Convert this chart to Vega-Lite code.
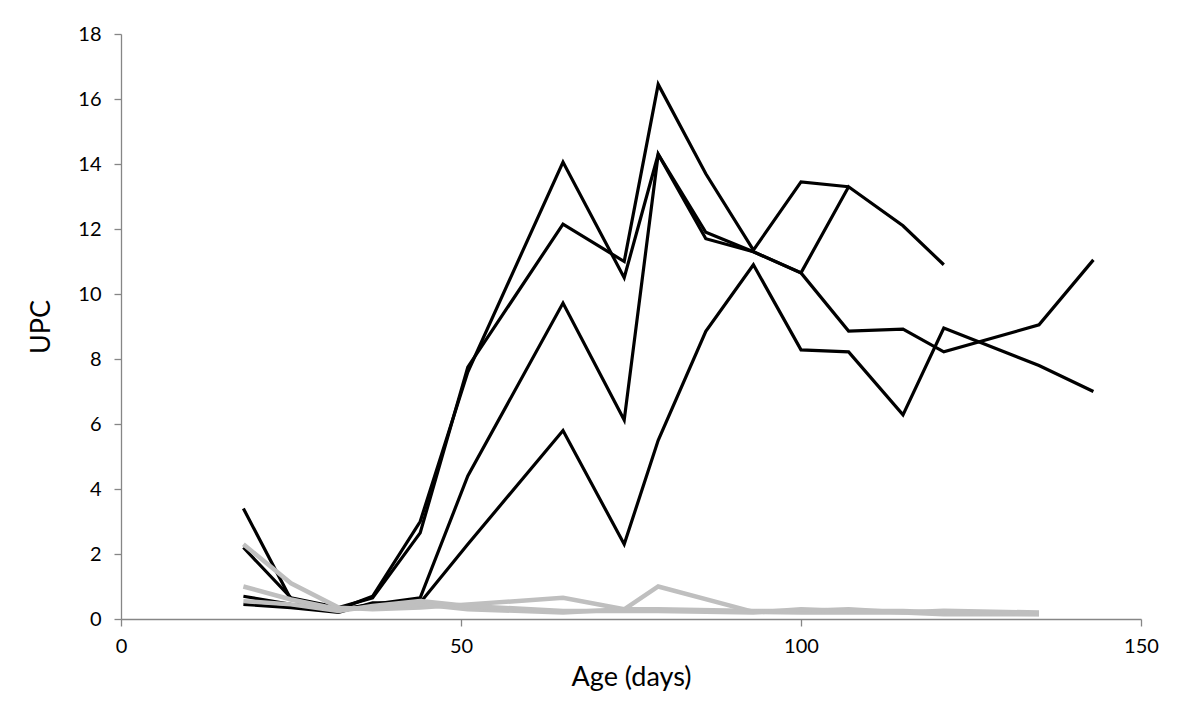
{
  "$schema": "https://vega.github.io/schema/vega-lite/v6.json",
  "width": 1020,
  "height": 585,
  "autosize": "none",
  "padding": {"left": 121, "top": 34, "right": 59, "bottom": 84},
  "background": "white",
  "config": {
    "view": {"stroke": null},
    "font": "Lato, sans-serif"
  },
  "datasets": {
    "upc": [
      {"s": "P", "g": "black", "age": 18, "upc": 3.4},
      {"s": "P", "g": "black", "age": 25, "upc": 0.6},
      {"s": "P", "g": "black", "age": 32, "upc": 0.3},
      {"s": "P", "g": "black", "age": 37, "upc": 0.7},
      {"s": "P", "g": "black", "age": 44, "upc": 3.0},
      {"s": "P", "g": "black", "age": 51, "upc": 7.6},
      {"s": "P", "g": "black", "age": 65, "upc": 14.06},
      {"s": "P", "g": "black", "age": 74, "upc": 10.5},
      {"s": "P", "g": "black", "age": 79, "upc": 14.3},
      {"s": "P", "g": "black", "age": 86, "upc": 11.9},
      {"s": "P", "g": "black", "age": 93, "upc": 11.3},
      {"s": "P", "g": "black", "age": 100, "upc": 10.65},
      {"s": "P", "g": "black", "age": 107, "upc": 13.3},
      {"s": "P", "g": "black", "age": 115, "upc": 12.1},
      {"s": "P", "g": "black", "age": 121, "upc": 10.9},

      {"s": "Q", "g": "black", "age": 18, "upc": 2.2},
      {"s": "Q", "g": "black", "age": 25, "upc": 0.65},
      {"s": "Q", "g": "black", "age": 32, "upc": 0.35},
      {"s": "Q", "g": "black", "age": 37, "upc": 0.65},
      {"s": "Q", "g": "black", "age": 44, "upc": 2.65},
      {"s": "Q", "g": "black", "age": 51, "upc": 7.75},
      {"s": "Q", "g": "black", "age": 65, "upc": 12.15},
      {"s": "Q", "g": "black", "age": 74, "upc": 11.0},
      {"s": "Q", "g": "black", "age": 79, "upc": 16.45},
      {"s": "Q", "g": "black", "age": 86, "upc": 13.7},
      {"s": "Q", "g": "black", "age": 93, "upc": 11.35},
      {"s": "Q", "g": "black", "age": 100, "upc": 13.45},
      {"s": "Q", "g": "black", "age": 107, "upc": 13.3},

      {"s": "R", "g": "black", "age": 18, "upc": 0.7},
      {"s": "R", "g": "black", "age": 25, "upc": 0.45},
      {"s": "R", "g": "black", "age": 32, "upc": 0.3},
      {"s": "R", "g": "black", "age": 37, "upc": 0.45},
      {"s": "R", "g": "black", "age": 44, "upc": 0.65},
      {"s": "R", "g": "black", "age": 51, "upc": 4.4},
      {"s": "R", "g": "black", "age": 65, "upc": 9.72},
      {"s": "R", "g": "black", "age": 74, "upc": 6.12},
      {"s": "R", "g": "black", "age": 79, "upc": 14.3},
      {"s": "R", "g": "black", "age": 86, "upc": 11.7},
      {"s": "R", "g": "black", "age": 93, "upc": 11.3},
      {"s": "R", "g": "black", "age": 100, "upc": 10.65},
      {"s": "R", "g": "black", "age": 107, "upc": 8.86},
      {"s": "R", "g": "black", "age": 115, "upc": 8.92},
      {"s": "R", "g": "black", "age": 121, "upc": 8.22},
      {"s": "R", "g": "black", "age": 135, "upc": 9.05},
      {"s": "R", "g": "black", "age": 143, "upc": 11.05},

      {"s": "S", "g": "black", "age": 18, "upc": 0.45},
      {"s": "S", "g": "black", "age": 25, "upc": 0.35},
      {"s": "S", "g": "black", "age": 32, "upc": 0.2},
      {"s": "S", "g": "black", "age": 37, "upc": 0.5},
      {"s": "S", "g": "black", "age": 44, "upc": 0.5},
      {"s": "S", "g": "black", "age": 51, "upc": 2.3},
      {"s": "S", "g": "black", "age": 65, "upc": 5.8},
      {"s": "S", "g": "black", "age": 74, "upc": 2.3},
      {"s": "S", "g": "black", "age": 79, "upc": 5.5},
      {"s": "S", "g": "black", "age": 86, "upc": 8.85},
      {"s": "S", "g": "black", "age": 93, "upc": 10.9},
      {"s": "S", "g": "black", "age": 100, "upc": 8.28},
      {"s": "S", "g": "black", "age": 107, "upc": 8.22},
      {"s": "S", "g": "black", "age": 115, "upc": 6.28},
      {"s": "S", "g": "black", "age": 121, "upc": 8.95},
      {"s": "S", "g": "black", "age": 135, "upc": 7.8},
      {"s": "S", "g": "black", "age": 143, "upc": 7.0},

      {"s": "G1", "g": "grey", "age": 18, "upc": 2.3},
      {"s": "G1", "g": "grey", "age": 25, "upc": 1.1},
      {"s": "G1", "g": "grey", "age": 32, "upc": 0.35},
      {"s": "G1", "g": "grey", "age": 37, "upc": 0.3},
      {"s": "G1", "g": "grey", "age": 44, "upc": 0.35},
      {"s": "G1", "g": "grey", "age": 51, "upc": 0.45},
      {"s": "G1", "g": "grey", "age": 65, "upc": 0.65},
      {"s": "G1", "g": "grey", "age": 74, "upc": 0.3},
      {"s": "G1", "g": "grey", "age": 79, "upc": 0.3},
      {"s": "G1", "g": "grey", "age": 93, "upc": 0.25},
      {"s": "G1", "g": "grey", "age": 100, "upc": 0.25},
      {"s": "G1", "g": "grey", "age": 107, "upc": 0.3},
      {"s": "G1", "g": "grey", "age": 115, "upc": 0.2},
      {"s": "G1", "g": "grey", "age": 121, "upc": 0.25},
      {"s": "G1", "g": "grey", "age": 135, "upc": 0.2},

      {"s": "G2", "g": "grey", "age": 18, "upc": 1.0},
      {"s": "G2", "g": "grey", "age": 25, "upc": 0.6},
      {"s": "G2", "g": "grey", "age": 32, "upc": 0.3},
      {"s": "G2", "g": "grey", "age": 37, "upc": 0.35},
      {"s": "G2", "g": "grey", "age": 44, "upc": 0.45},
      {"s": "G2", "g": "grey", "age": 51, "upc": 0.3},
      {"s": "G2", "g": "grey", "age": 65, "upc": 0.2},
      {"s": "G2", "g": "grey", "age": 74, "upc": 0.3},
      {"s": "G2", "g": "grey", "age": 79, "upc": 1.0},
      {"s": "G2", "g": "grey", "age": 93, "upc": 0.22},
      {"s": "G2", "g": "grey", "age": 100, "upc": 0.2},
      {"s": "G2", "g": "grey", "age": 107, "upc": 0.2},
      {"s": "G2", "g": "grey", "age": 115, "upc": 0.2},
      {"s": "G2", "g": "grey", "age": 121, "upc": 0.15},
      {"s": "G2", "g": "grey", "age": 135, "upc": 0.15},

      {"s": "G3", "g": "grey", "age": 18, "upc": 0.55},
      {"s": "G3", "g": "grey", "age": 25, "upc": 0.45},
      {"s": "G3", "g": "grey", "age": 32, "upc": 0.25},
      {"s": "G3", "g": "grey", "age": 37, "upc": 0.4},
      {"s": "G3", "g": "grey", "age": 44, "upc": 0.55},
      {"s": "G3", "g": "grey", "age": 51, "upc": 0.4},
      {"s": "G3", "g": "grey", "age": 65, "upc": 0.25},
      {"s": "G3", "g": "grey", "age": 74, "upc": 0.25},
      {"s": "G3", "g": "grey", "age": 79, "upc": 0.25},
      {"s": "G3", "g": "grey", "age": 93, "upc": 0.2},
      {"s": "G3", "g": "grey", "age": 100, "upc": 0.3},
      {"s": "G3", "g": "grey", "age": 107, "upc": 0.25},
      {"s": "G3", "g": "grey", "age": 115, "upc": 0.25},
      {"s": "G3", "g": "grey", "age": 121, "upc": 0.2},
      {"s": "G3", "g": "grey", "age": 135, "upc": 0.15}
    ]
  },
  "data": {"name": "upc"},
  "encoding": {
    "x": {
      "field": "age", "type": "quantitative",
      "scale": {"domain": [0, 150], "nice": false, "zero": true},
      "axis": {
        "title": "Age (days)", "values": [0, 50, 100, 150], "grid": false,
        "domainColor": "#868686", "tickColor": "#868686", "tickSize": 7, "domainWidth": 1.3, "tickWidth": 1.3,
        "labelFontSize": 20, "labelColor": "#000000", "labelPadding": 10,
        "labelFlush": false,
        "titleFontSize": 27, "titleFontWeight": "normal", "titleColor": "#000000", "titlePadding": 8
      }
    },
    "y": {
      "field": "upc", "type": "quantitative",
      "scale": {"domain": [0, 18], "nice": false},
      "axis": {
        "title": "UPC", "values": [0, 2, 4, 6, 8, 10, 12, 14, 16, 18], "grid": false,
        "domainColor": "#868686", "tickColor": "#868686", "tickSize": 7, "domainWidth": 1.3, "tickWidth": 1.3,
        "labelFontSize": 20, "labelColor": "#000000", "labelPadding": 13,
        "titleFontSize": 27, "titleFontWeight": "normal", "titleColor": "#000000", "titlePadding": 22
      }
    },
    "detail": {"field": "s", "type": "nominal"}
  },
  "layer": [
    {
      "transform": [{"filter": "datum.g == 'black'"}],
      "mark": {"type": "line", "color": "#000000", "strokeWidth": 3.2, "strokeJoin": "miter", "clip": true}
    },
    {
      "transform": [{"filter": "datum.g == 'grey'"}],
      "mark": {"type": "line", "color": "#bfbfbf", "strokeWidth": 4.5, "strokeJoin": "miter", "clip": true}
    }
  ]
}
